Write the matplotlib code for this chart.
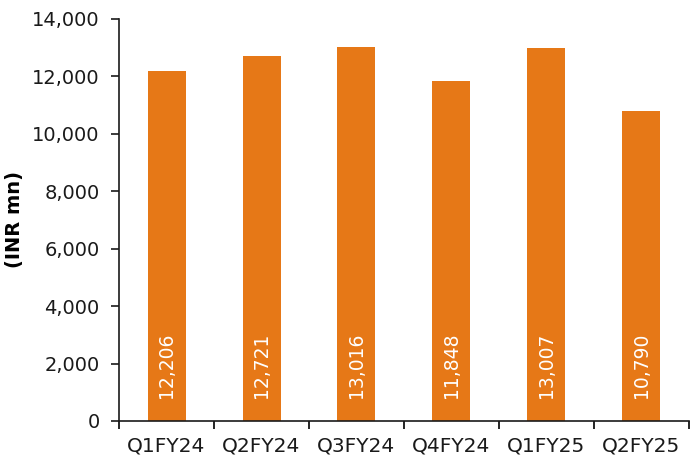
import numpy as np
import matplotlib.pyplot as plt
from matplotlib.ticker import FuncFormatter

quarters = ["Q1FY24", "Q2FY24", "Q3FY24", "Q4FY24", "Q1FY25", "Q2FY25"]
revenue = [12206, 12721, 13016, 11848, 13007, 10790]

plt.rcParams['font.family'] = ['DejaVu Sans']

fig = plt.figure(figsize=(6.91, 4.63), dpi=100)
ax = fig.add_axes([119 / 691, 42 / 463, 570 / 691, 402 / 463])

x = np.arange(len(quarters))
bars = ax.bar(x, revenue, width=0.4, color="#E67817")

# value labels, vertical, near the bottom of each bar
for xi, v in zip(x, revenue):
    ax.text(xi, 800, f"{v:,}", rotation=90, ha="center", va="bottom",
            color="white", fontsize=13.5)

ax.set_xlim(-0.5, len(quarters) - 0.5)
ax.set_ylim(0, 14000)
ax.set_yticks(np.arange(0, 14001, 2000))
ax.yaxis.set_major_formatter(FuncFormatter(lambda v, p: f"{int(v):,}"))

ax.set_xticks(x)
ax.set_xticklabels(quarters)
ax.set_xticks(np.arange(-0.5, len(quarters), 1.0), minor=True)
ax.tick_params(axis="x", which="major", length=0, pad=11, labelsize=14.5)
ax.tick_params(axis="x", which="minor", length=6, width=1.2)
ax.tick_params(axis="y", length=6, width=1.2, pad=8, labelsize=14)
ax.tick_params(colors="#1a1a1a")

ax.set_ylabel("(INR mn)", fontsize=14, fontweight="bold", labelpad=6)

for side in ["top", "right"]:
    ax.spines[side].set_visible(False)
for side in ["left", "bottom"]:
    ax.spines[side].set_linewidth(1.2)
    ax.spines[side].set_color("#1a1a1a")

plt.savefig("out.png", dpi=100)
